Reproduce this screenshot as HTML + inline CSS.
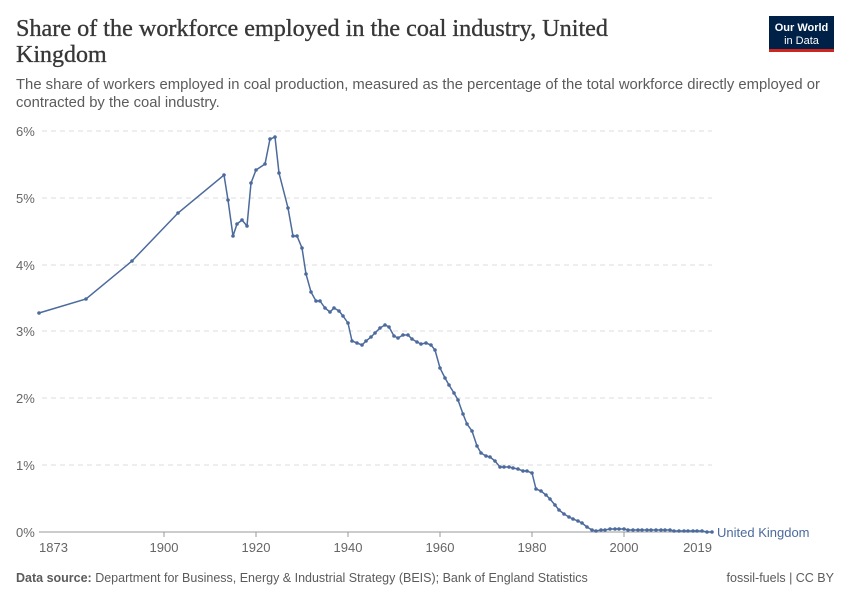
<!DOCTYPE html>
<html><head><meta charset="utf-8"><style>
body{margin:0;background:#fff;width:850px;height:600px;overflow:hidden;font-family:"Liberation Sans",sans-serif}
</style></head><body>
<svg width="850" height="600" xmlns="http://www.w3.org/2000/svg">
<text x="16" y="36" font-family="Liberation Serif,serif" font-size="24" fill="#373737" stroke="#373737" stroke-width="0.35" textLength="592" lengthAdjust="spacingAndGlyphs">Share of the workforce employed in the coal industry, United</text>
<text x="16" y="62" font-family="Liberation Serif,serif" font-size="24" fill="#373737" stroke="#373737" stroke-width="0.35">Kingdom</text>
<rect x="769" y="16" width="65" height="36" fill="#002147"/>
<rect x="769" y="49" width="65" height="3" fill="#ce261e"/>
<text x="801.5" y="31" text-anchor="middle" font-size="11" fill="#fff" font-weight="bold">Our World</text>
<text x="801.5" y="44" text-anchor="middle" font-size="11" fill="#fff">in Data</text>
<text x="16" y="89" font-size="14.8" fill="#5b5b5b" textLength="804" lengthAdjust="spacingAndGlyphs">The share of workers employed in coal production, measured as the percentage of the total workforce directly employed or</text>
<text x="16" y="107" font-size="14.8" fill="#5b5b5b">contracted by the coal industry.</text>
<g stroke="#ddd" stroke-dasharray="5,4" stroke-width="1">
<line x1="42" x2="712" y1="131" y2="131"/><line x1="42" x2="712" y1="198" y2="198"/><line x1="42" x2="712" y1="265" y2="265"/><line x1="42" x2="712" y1="331" y2="331"/><line x1="42" x2="712" y1="398" y2="398"/><line x1="42" x2="712" y1="465" y2="465"/>
</g>
<line x1="39" x2="712" y1="532" y2="532" stroke="#999"/>
<g font-size="13" fill="#666">
<text x="16" y="136">6%</text><text x="16" y="203">5%</text><text x="16" y="270">4%</text><text x="16" y="336">3%</text><text x="16" y="403">2%</text><text x="16" y="470">1%</text><text x="16" y="537">0%</text>
<text x="39" y="552">1873</text><text x="164" y="552" text-anchor="middle">1900</text><text x="256" y="552" text-anchor="middle">1920</text><text x="348" y="552" text-anchor="middle">1940</text><text x="440" y="552" text-anchor="middle">1960</text><text x="532" y="552" text-anchor="middle">1980</text><text x="624" y="552" text-anchor="middle">2000</text><text x="712" y="552" text-anchor="end">2019</text>
</g>
<g stroke="#999"><line x1="164" x2="164" y1="532" y2="537"/><line x1="256" x2="256" y1="532" y2="537"/><line x1="348" x2="348" y1="532" y2="537"/><line x1="440" x2="440" y1="532" y2="537"/><line x1="532" x2="532" y1="532" y2="537"/><line x1="624" x2="624" y1="532" y2="537"/></g>
<polyline id="p" fill="none" stroke="#4c6a9c" stroke-width="1.5" points="39,313 86,299 132,261 178,213 224,175 228,200 233,236 237,224 242,220 247,226 251,183 256,170 265,164 270,139 275,137 279,173 288,208 293,236 297,236 302,248 306,274 311,292 316,301 320,301 325,308 330,312 334,308 339,311 343,316 348,323 352,341 357,343 362,345 366,341 371,337 375,333 380,328 385,325 389,327 394,336 398,338 403,335 408,335 412,339 417,342 421,344 426,343 431,345 435,350 440,368 445,378 449,385 454,393 458,400 463,414 467,424 472,431 477,446 481,453 486,456 490,457 495,461 500,467 504,467 509,467 513,468 518,469 523,471 527,471 532,473 536,489 541,491 546,495 550,499 555,505 559,510 564,514 569,517 573,519 578,521 582,523 587,527 592,530 596,531 601,530 605,530 610,529 615,529 619,529 624,529 628,530 633,530 638,530 642,530 647,530 651,530 656,530 661,530 665,530 670,530 674,531 679,531 684,531 688,531 693,531 697,531 702,531 707,532 712,532"/>
<g fill="#4c6a9c" id="dots"></g>
<text x="717" y="537" font-size="13" fill="#4c6a9c">United Kingdom</text>
<text x="16" y="582" font-size="12.5" fill="#5b5b5b"><tspan font-weight="bold">Data source:</tspan> Department for Business, Energy &amp; Industrial Strategy (BEIS); Bank of England Statistics</text>
<text x="834" y="582" font-size="12.5" fill="#5b5b5b" text-anchor="end">fossil-fuels | CC BY</text>
</svg>
<script>
var p=document.getElementById('p').getAttribute('points').trim().split(/\s+/),g=document.getElementById('dots');
p.forEach(function(s){var a=s.split(',');var c=document.createElementNS('http://www.w3.org/2000/svg','circle');c.setAttribute('cx',a[0]);c.setAttribute('cy',a[1]);c.setAttribute('r','1.8');g.appendChild(c);});
</script>
</body></html>
